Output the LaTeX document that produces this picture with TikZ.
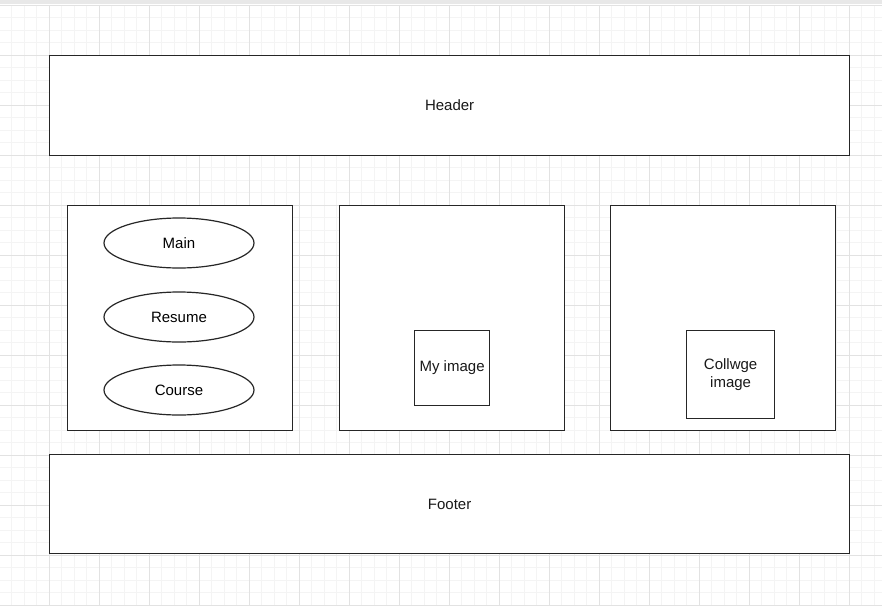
\documentclass[tikz,border=0pt]{standalone}
\usepackage{fontspec}
\setmainfont{Liberation Sans}
\usetikzlibrary{shapes.geometric}
\definecolor{minorgrid}{HTML}{F4F4F4}
\definecolor{majorgrid}{HTML}{E2E2E2}
\definecolor{topbar}{HTML}{E8E8E8}
\begin{document}
\begin{tikzpicture}[x=1pt,y=-1pt,
  box/.style={draw=black!85,line width=1.2pt,fill=white},
  lbl/.style={font=\fontsize{15}{18}\selectfont,align=center,text=black!90},
  oval/.style={draw=black!85,line width=1.2pt,fill=white,ellipse,minimum width=150pt,minimum height=50pt,inner sep=0pt,font=\fontsize{15}{18}\selectfont}]
\useasboundingbox (0,0) rectangle (882,605);
\fill[white] (0,0) rectangle (882,605);
% grid
\foreach \i in {0,...,71} {\draw[minorgrid,line width=0.8pt] (11.5+\i*12.5,5) -- (11.5+\i*12.5,605);}
\foreach \j in {0,...,48} {\draw[minorgrid,line width=0.8pt] (0,5+\j*12.5) -- (882,5+\j*12.5);}
\foreach \i in {0,...,17} {\draw[majorgrid,line width=0.8pt] (49+\i*50,5) -- (49+\i*50,605);}
\foreach \j in {0,...,12} {\draw[majorgrid,line width=0.8pt] (0,5+\j*50) -- (882,5+\j*50);}
\fill[topbar] (0,0) rectangle (882,4);
% header & footer
\node[box,minimum width=800pt,minimum height=100pt,inner sep=0pt,anchor=north west,lbl] (header) at (49,55) {Header};
\node[box,minimum width=800pt,minimum height=99pt,inner sep=0pt,anchor=north west,lbl] (footer) at (49,454) {Footer};
% columns
\node[box,minimum width=225pt,minimum height=225pt,inner sep=0pt,anchor=north west] (left) at (67,205) {};
\node[box,minimum width=225pt,minimum height=225pt,inner sep=0pt,anchor=north west] (mid) at (339,205) {};
\node[box,minimum width=225pt,minimum height=225pt,inner sep=0pt,anchor=north west] (right) at (610,205) {};
% ellipses
\node[oval] (main) at (179,243) {Main};
\node[oval] (resume) at (179,317) {Resume};
\node[oval] (course) at (179,390) {Course};
% images
\node[box,minimum width=75pt,minimum height=75pt,inner sep=0pt,anchor=north west,lbl] (myimg) at (414,330) {My image};
\node[box,minimum width=88pt,minimum height=88pt,inner sep=0pt,anchor=north west,lbl] (colimg) at (686,330) {Collwge\\image};
\end{tikzpicture}
\end{document}
